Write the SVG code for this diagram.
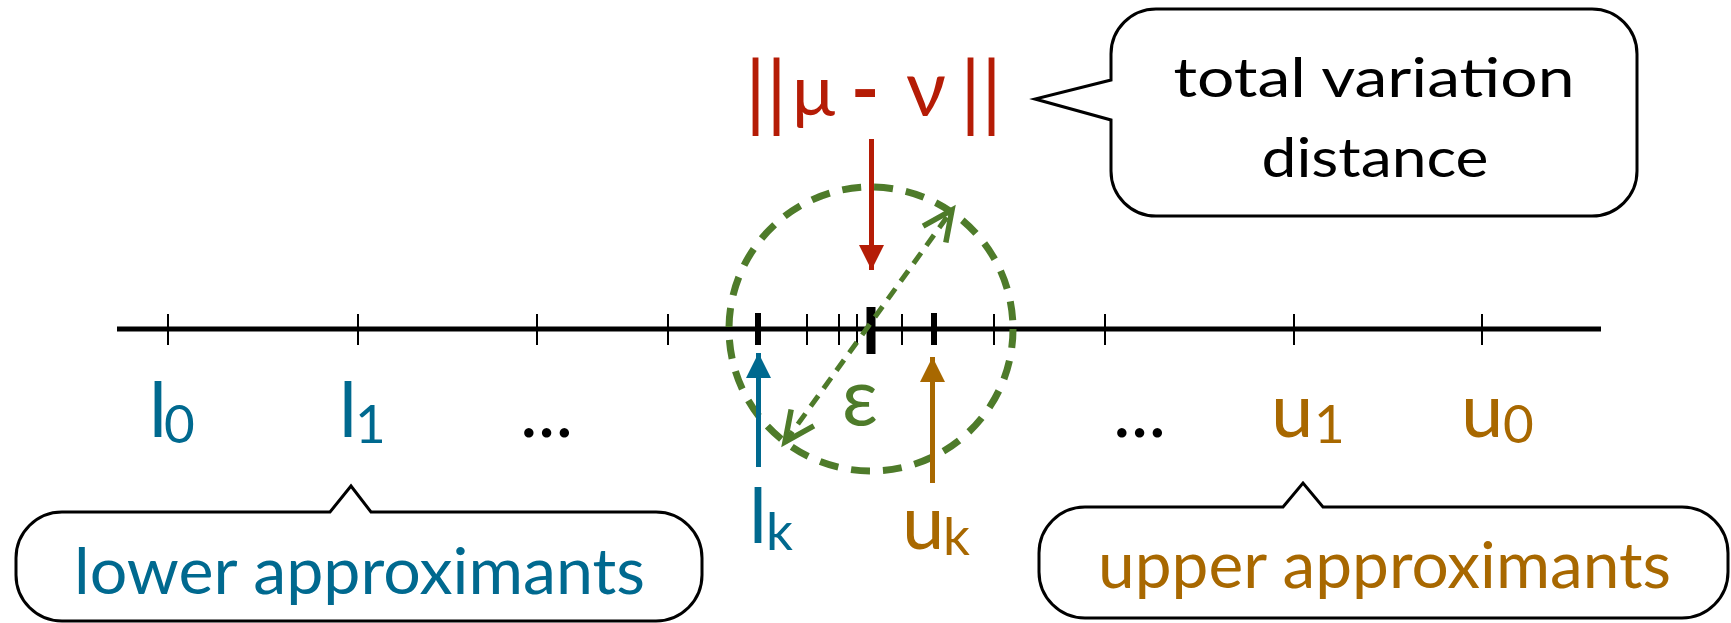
<svg xmlns="http://www.w3.org/2000/svg" width="1731" height="623" viewBox="0 0 1731 623">
  <style>
    .lbl { font-family: Lato, "Open Sans", "Liberation Sans", sans-serif; }
    .blue { fill: #00698F; }
    .orange { fill: #A86800; }
    .red { fill: #B51C06; }
    .green { fill: #4E7B2A; }
    .callout { fill: #FFFFFF; stroke: #000000; stroke-width: 3; stroke-linejoin: miter; }
    .tick { stroke: #000000; stroke-width: 2; }
    .tick-b { stroke: #000000; stroke-width: 6; }
    .axis { stroke: #000000; stroke-width: 5; }
    .arr { stroke-width: 5; fill: none; }
  </style>
  <defs>
    <marker id="head-red" markerUnits="userSpaceOnUse" markerWidth="26" markerHeight="26" viewBox="0 0 26 26" refX="25" refY="12.5" orient="auto">
      <path d="M0,0 L25,12.5 L0,25 Z" fill="#B51C06"/>
    </marker>
    <marker id="head-blue" markerUnits="userSpaceOnUse" markerWidth="26" markerHeight="26" viewBox="0 0 26 26" refX="25" refY="12.5" orient="auto">
      <path d="M0,0 L25,12.5 L0,25 Z" fill="#00698F"/>
    </marker>
    <marker id="head-orange" markerUnits="userSpaceOnUse" markerWidth="26" markerHeight="26" viewBox="0 0 26 26" refX="25" refY="12.5" orient="auto">
      <path d="M0,0 L25,12.5 L0,25 Z" fill="#A86800"/>
    </marker>
    <marker id="head-open" markerUnits="userSpaceOnUse" markerWidth="40" markerHeight="40" viewBox="-34 -20 40 40" refX="0" refY="0" orient="auto-start-reverse" overflow="visible">
      <path d="M-30,-14 L0,0 L-30,14" fill="none" stroke="#4E7B2A" stroke-width="5.5" stroke-dasharray="none"/>
    </marker>
  </defs>

  <!-- number line with tick marks -->
  <g id="axis">
    <line class="axis" x1="117" y1="329" x2="1601" y2="329"/>
    <g class="tick">
      <line x1="168" y1="314" x2="168" y2="345"/>
      <line x1="358" y1="314" x2="358" y2="345"/>
      <line x1="537" y1="314" x2="537" y2="345"/>
      <line x1="668" y1="314" x2="668" y2="345"/>
      <line x1="807" y1="314" x2="807" y2="345"/>
      <line x1="839" y1="314" x2="839" y2="345"/>
      <line x1="857" y1="314" x2="857" y2="345"/>
      <line x1="902" y1="314" x2="902" y2="345"/>
      <line x1="994" y1="314" x2="994" y2="345"/>
      <line x1="1105" y1="314" x2="1105" y2="345"/>
      <line x1="1294" y1="314" x2="1294" y2="345"/>
      <line x1="1482" y1="314" x2="1482" y2="345"/>
    </g>
    <line class="tick-b" x1="758" y1="313" x2="758" y2="345"/>
    <line class="tick-b" x1="934" y1="313" x2="934" y2="345"/>
    <line stroke="#000000" stroke-width="9" x1="871" y1="307" x2="871" y2="354"/>
  </g>

  <!-- epsilon neighbourhood -->
  <g id="epsilon-ball">
    <circle cx="871" cy="329" r="142" fill="none" stroke="#4E7B2A" stroke-width="7" stroke-dasharray="19 13"/>
    <text class="lbl green" x="860" y="425" font-size="80" text-anchor="middle">ε</text>
  </g>

  <!-- labels along the line -->
  <g id="l0">
    <text class="lbl blue" x="149" y="437" font-size="76">l<tspan x="164" y="443" font-size="53">0</tspan></text>
  </g>
  <g id="l1">
    <text class="lbl blue" x="339" y="437" font-size="76">l<tspan x="355" y="443" font-size="53">1</tspan></text>
  </g>
  <g id="dots-left">
    <text class="lbl" x="520" y="437" font-size="75" fill="#000000">...</text>
  </g>
  <g id="dots-right">
    <text class="lbl" x="1113" y="437" font-size="75" fill="#000000">...</text>
  </g>
  <g id="u1">
    <text class="lbl orange" x="1271" y="437" font-size="76">u<tspan x="1314" y="443" font-size="53">1</tspan></text>
  </g>
  <g id="u0">
    <text class="lbl orange" x="1461" y="437" font-size="76">u<tspan x="1503" y="443" font-size="53">0</tspan></text>
  </g>
  <g id="lk">
    <text class="lbl blue" x="749" y="543" font-size="76">l<tspan x="766" y="550" font-size="53">k</tspan></text>
  </g>
  <g id="uk">
    <text class="lbl orange" x="902" y="549" font-size="76">u<tspan x="943" y="555" font-size="53">k</tspan></text>
  </g>
  <g id="norm">
    <text class="lbl red" y="116" font-size="72"><tspan x="745" y="121" font-size="84">||</tspan><tspan x="792" y="116">μ</tspan><tspan x="840"> </tspan><tspan x="851" font-weight="bold" font-size="76">-</tspan><tspan x="884"> </tspan><tspan x="906" font-size="78">ν</tspan><tspan x="960" y="121" font-size="84">||</tspan></text>
  </g>

  <!-- callouts -->
  <g id="tv-callout">
    <path class="callout" d="M1156,9 H1592 A45,45 0 0 1 1637,54 V171 A45,45 0 0 1 1592,216 H1156 A45,45 0 0 1 1111,171 V120 L1035,99 L1111,80 V54 A45,45 0 0 1 1156,9 Z"/>
    <text class="lbl" x="1374" y="97" font-size="54" text-anchor="middle" fill="#000000" textLength="401" lengthAdjust="spacingAndGlyphs">total variation</text>
    <text class="lbl" x="1375" y="177" font-size="54" text-anchor="middle" fill="#000000" textLength="227" lengthAdjust="spacingAndGlyphs">distance</text>
  </g>
  <g id="lower-callout">
    <path class="callout" d="M62,512 H330 L351,486 L371,512 H656 A46,46 0 0 1 702,558 V575 A46,46 0 0 1 656,621 H62 A46,46 0 0 1 16,575 V558 A46,46 0 0 1 62,512 Z"/>
    <text class="lbl blue" x="74" y="594" font-size="64" textLength="571" lengthAdjust="spacingAndGlyphs">lower approximants</text>
  </g>
  <g id="upper-callout">
    <path class="callout" d="M1085,507 H1283 L1303,483 L1323,507 H1682 A46,46 0 0 1 1728,553 V572 A46,46 0 0 1 1682,618 H1085 A46,46 0 0 1 1039,572 V553 A46,46 0 0 1 1085,507 Z"/>
    <text class="lbl orange" x="1098" y="588" font-size="64" textLength="573" lengthAdjust="spacingAndGlyphs">upper approximants</text>
  </g>

  <!-- connectors -->
  <g id="connectors">
    <line class="arr" stroke="#B51C06" x1="871.5" y1="139" x2="871.5" y2="270" marker-end="url(#head-red)"/>
    <line class="arr" stroke="#00698F" x1="758.5" y1="467" x2="758.5" y2="353" marker-end="url(#head-blue)"/>
    <line class="arr" stroke="#A86800" x1="932.5" y1="483" x2="932.5" y2="357" marker-end="url(#head-orange)"/>
    <line class="arr" stroke="#4E7B2A" stroke-dasharray="13 9" x1="785" y1="442" x2="952" y2="210" marker-start="url(#head-open)" marker-end="url(#head-open)"/>
  </g>
</svg>
